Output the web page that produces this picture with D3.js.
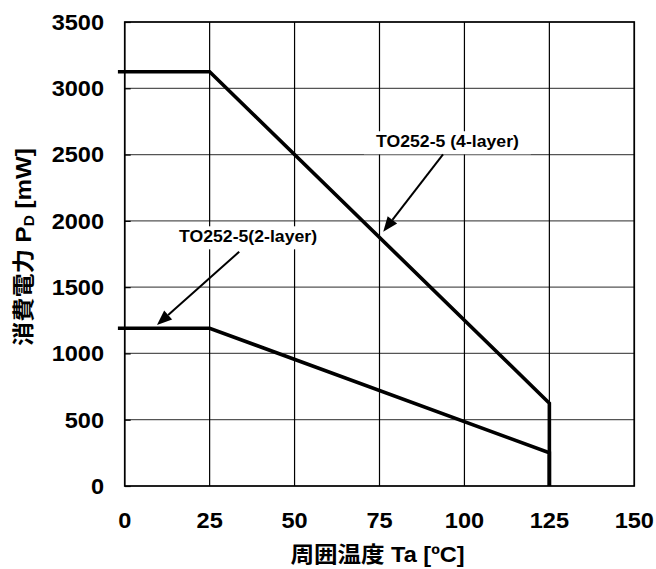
<!DOCTYPE html>
<html>
<head>
<meta charset="utf-8">
<script src="https://cdn.jsdelivr.net/npm/d3@7"></script>
<style>
  html, body { margin: 0; padding: 0; background: #fff; }
  svg { display: block; }
  text { font-family: "Liberation Sans", Arial, "Noto Sans CJK JP", sans-serif; font-weight: bold; fill: #000; }
</style>
</head>
<body>
<svg id="chart" width="656" height="569"></svg>
<script>
// Derating curves: ambient temperature (°C) vs. power dissipation (mW)
const tempTicks = [0, 25, 50, 75, 100, 125, 150];
const powerTicks = [0, 500, 1000, 1500, 2000, 2500, 3000, 3500];

const temp4Layer = [-2, 25, 125, 125];
const power4Layer = [3125, 3125, 625, 0];
const temp2Layer = [-2, 25, 125, 125];
const power2Layer = [1190, 1190, 250, 0];

const labelNames = ["TO252-5 (4-layer)", "TO252-5(2-layer)"];
// label anchor (temp, power), arrow tail and arrow head in data units
const labelTemp = [95.0, 36.3];
const labelPower = [2559, 1842];
const arrowFromTemp = [93.7, 33.7];
const arrowFromPower = [2501, 1767];
const arrowToTemp = [76.1, 9.5];
const arrowToPower = [1918, 1214];

const xTitle = "周囲温度 Ta [ºC]";

const svg = d3.select("#chart");
const plotL = 124.7, plotR = 634.3, plotT = 22, plotB = 486;
const STRETCH = 1.07;

const x = d3.scaleLinear().domain([0, 150]).range([plotL, plotR]);
const y = d3.scaleLinear().domain([0, 3500]).range([plotB, plotT]);

// grid
const grid = svg.append("g");
grid.selectAll("line.h").data(powerTicks).join("line")
  .attr("class", "h")
  .attr("x1", plotL).attr("x2", plotR)
  .attr("y1", d => y(d)).attr("y2", d => y(d))
  .attr("stroke", "#555").attr("stroke-width", 1.2);
grid.selectAll("line.v").data(tempTicks).join("line")
  .attr("class", "v")
  .attr("y1", plotT).attr("y2", plotB)
  .attr("x1", d => x(d)).attr("x2", d => x(d))
  .attr("stroke", "#000").attr("stroke-width", 1.2);

// inner tick marks on the value axis
const yAxis = d3.axisRight(y).tickValues(powerTicks).tickSize(6).tickFormat("");
const yAxisG = svg.append("g").attr("transform", `translate(${plotL},0)`).call(yAxis);
yAxisG.select(".domain").remove();
yAxisG.selectAll("line").attr("stroke", "#000").attr("stroke-width", 1.2);

// frame
svg.append("rect").attr("x", plotL).attr("y", plotT)
  .attr("width", plotR - plotL).attr("height", plotB - plotT)
  .attr("fill", "none").attr("stroke", "#000").attr("stroke-width", 1.6);

// tick labels
function stretchedText(g, px, py, str, anchor, size) {
  return g.append("text")
    .attr("transform", `translate(${px},${py}) scale(${STRETCH},1)`)
    .attr("text-anchor", anchor).attr("font-size", size)
    .text(str);
}
const tickG = svg.append("g");
powerTicks.forEach(v => {
  stretchedText(tickG, 104, y(v) + 7.8, String(v), "end", 22);
});
tempTicks.forEach(v => {
  stretchedText(tickG, x(v), 528, String(v), "middle", 22);
});

// curves
const line = d3.line().x(d => x(d[0])).y(d => y(d[1]));
const curves = [
  d3.zip(temp4Layer, power4Layer),
  d3.zip(temp2Layer, power2Layer)
];
svg.append("g").selectAll("path").data(curves).join("path")
  .attr("d", line)
  .attr("fill", "none").attr("stroke", "#000").attr("stroke-width", 3.6)
  .attr("stroke-linejoin", "miter").attr("stroke-linecap", "butt");

// annotation labels with white backing and arrows
const annG = svg.append("g");
labelNames.forEach((name, i) => {
  const t = stretchedText(annG, x(labelTemp[i]), y(labelPower[i]), name, "middle", 16.5);
  const bb = t.node().getBBox();
  const w = bb.width * STRETCH + 24, h = 23;
  annG.insert("rect", "text")
    .attr("x", x(labelTemp[i]) - w / 2).attr("y", y(labelPower[i]) - 15.5)
    .attr("width", w).attr("height", h).attr("fill", "#fff");

  const x1 = x(arrowFromTemp[i]), y1 = y(arrowFromPower[i]);
  const x2 = x(arrowToTemp[i]), y2 = y(arrowToPower[i]);
  const ang = Math.atan2(y2 - y1, x2 - x1);
  const headLen = 15, headHalf = 6;
  const bx = x2 - headLen * Math.cos(ang), by = y2 - headLen * Math.sin(ang);
  annG.append("line")
    .attr("x1", x1).attr("y1", y1).attr("x2", bx).attr("y2", by)
    .attr("stroke", "#000").attr("stroke-width", 2);
  const px = -Math.sin(ang), py = Math.cos(ang);
  annG.append("path")
    .attr("d", `M${x2},${y2}L${bx + headHalf * px},${by + headHalf * py}L${bx - headHalf * px},${by - headHalf * py}Z`)
    .attr("fill", "#000");
});

// axis titles
svg.append("text")
  .attr("transform", `translate(${(plotL + plotR) / 2 - 2},562) scale(${STRETCH},1)`)
  .attr("text-anchor", "middle").attr("font-size", 22)
  .text(xTitle);

const yt = svg.append("text")
  .attr("transform", `translate(31,247) rotate(-90) scale(1.1,1)`)
  .attr("text-anchor", "middle").attr("font-size", 22);
yt.append("tspan").text("消費電力 P");
yt.append("tspan").attr("font-size", 14).attr("dy", 3).text("D");
yt.append("tspan").attr("dy", -3).text(" [mW]");
</script>
</body>
</html>
